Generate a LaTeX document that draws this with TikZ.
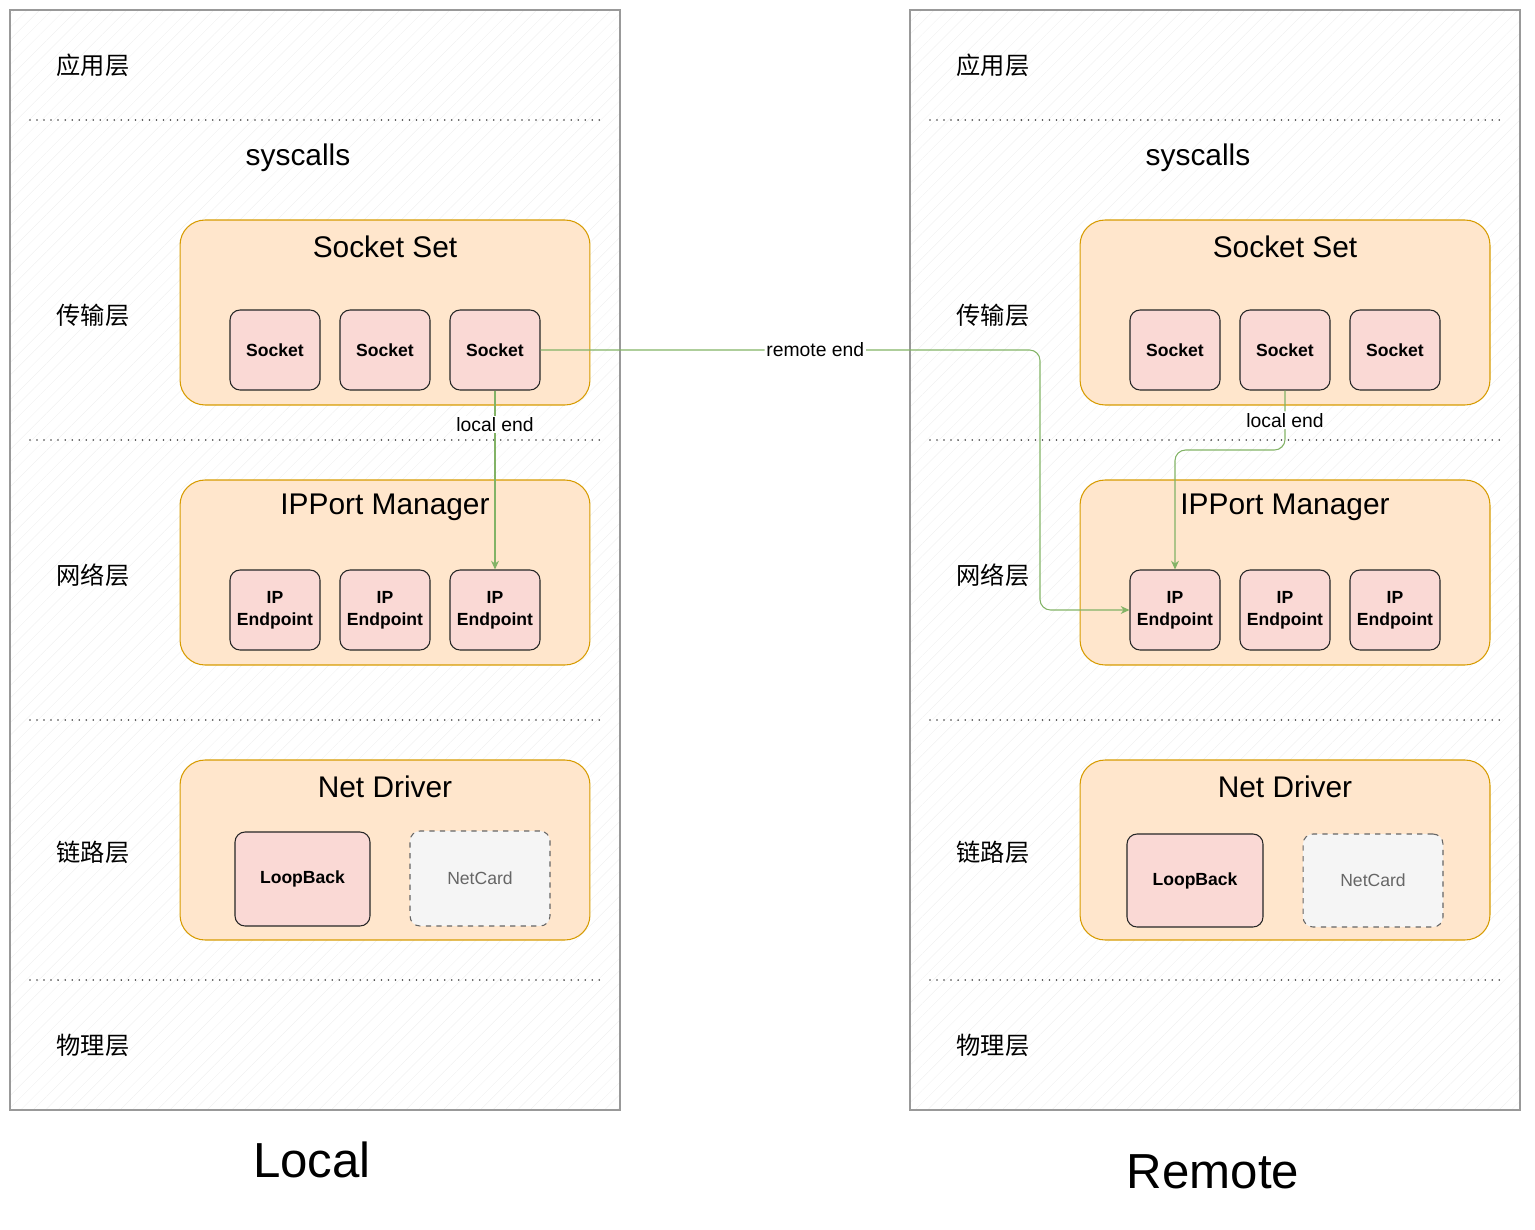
\documentclass[tikz,border=0pt]{standalone}
\usepackage{fontspec}
\setmainfont{Liberation Sans}
\newfontfamily\cjk{Noto Sans CJK SC}
\usetikzlibrary{arrows.meta,patterns.meta}
\definecolor{boxfill}{HTML}{FFE6CC}
\definecolor{boxline}{HTML}{D79B00}
\definecolor{itemfill}{HTML}{FAD9D5}
\definecolor{cardfill}{HTML}{F5F5F5}
\definecolor{cardline}{HTML}{666666}
\definecolor{linkcol}{HTML}{82B366}
\tikzset{
  panel/.style={draw=black!40, line width=0.7pt, pattern={Lines[angle=45,distance=5pt,line width=0.25pt]}, pattern color=black!6},
  sep/.style={draw=black!75, line width=1pt, line cap=round, dash pattern=on 0pt off 4pt},
  layer/.style={font=\cjk\fontsize{13.8}{16}\selectfont},
  sys/.style={font=\fontsize{17}{20}\selectfont},
  group/.style={draw=boxline, fill=boxfill, line width=0.6pt, rounded corners=0.5cm, minimum width=8.2cm, minimum height=3.7cm},
  title/.style={font=\fontsize{17}{20}\selectfont},
  item/.style={draw=black!85, fill=itemfill, line width=0.6pt, rounded corners=0.2cm, minimum width=1.8cm, minimum height=1.6cm, inner sep=0pt, align=center, font=\bfseries\fontsize{10}{12.5}\selectfont},
  card/.style={draw=cardline, dashed, fill=cardfill, text=cardline, line width=0.6pt, rounded corners=0.2cm, minimum width=2.8cm, minimum height=1.9cm, font=\fontsize{10}{12}\selectfont},
  link/.style={draw=linkcol, line width=0.6pt, -{Stealth[length=5pt,width=4.5pt]}},
  lbl/.style={fill=white, inner sep=1pt, font=\fontsize{11}{13}\selectfont},
  side/.style={font=\fontsize{28}{32}\selectfont}
}

\begin{document}
\begin{tikzpicture}[x=0.02cm,y=-0.02cm]
  %%%%% START %%%%%
  \def\xr{900}
  \useasboundingbox (0,0) rectangle (1535,1230);

  % local host
  \draw[panel] (10,10) rectangle (620,1110);
  \draw[sep] (30,120) -- (600,120);
  \draw[sep] (30,440) -- (600,440);
  \draw[sep] (30,720) -- (600,720);
  \draw[sep] (30,980) -- (600,980);

  \node[layer] (L-app) at (93,65) {应用层};
  \node[layer] (L-tra) at (93,315) {传输层};
  \node[layer] (L-net) at (93,575) {网络层};
  \node[layer] (L-lnk) at (93,852) {链路层};
  \node[layer] (L-phy) at (93,1045) {物理层};
  \node[sys] (L-sys) at (298,158) {syscalls};

  \node[group] (L-set) at (385,312.5) {};
  \node[title] (L-settitle) at (385,247) {Socket Set};
  \node[item] (L-s1) at (275,350) {Socket};
  \node[item] (L-s2) at (385,350) {Socket};
  \node[item] (L-s3) at (495,350) {Socket};

  \node[group] (L-ipm) at (385,572.5) {};
  \node[title] (L-ipmtitle) at (385,507) {IPPort Manager};
  \node[item] (L-e1) at (275,610) {IP\\Endpoint};
  \node[item] (L-e2) at (385,610) {IP\\Endpoint};
  \node[item] (L-e3) at (495,610) {IP\\Endpoint};

  \node[group, minimum height=3.6cm] (L-drv) at (385,850) {};
  \node[title] (L-drvtitle) at (385,787) {Net Driver};
  \node[item, minimum width=2.7cm, minimum height=1.88cm] (L-lo) at (302.5,879) {LoopBack};
  \node[card] (L-nic) at (480,878.5) {NetCard};

  \node[side] (L-name) at (312,1160) {Local};

  % remote host
  \draw[panel] (\xr+10,10) rectangle (\xr+620,1110);
  \draw[sep] (\xr+30,120) -- (\xr+600,120);
  \draw[sep] (\xr+30,440) -- (\xr+600,440);
  \draw[sep] (\xr+30,720) -- (\xr+600,720);
  \draw[sep] (\xr+30,980) -- (\xr+600,980);

  \node[layer] (R-app) at (\xr+93,65) {应用层};
  \node[layer] (R-tra) at (\xr+93,315) {传输层};
  \node[layer] (R-net) at (\xr+93,575) {网络层};
  \node[layer] (R-lnk) at (\xr+93,852) {链路层};
  \node[layer] (R-phy) at (\xr+93,1045) {物理层};
  \node[sys] (R-sys) at (\xr+298,158) {syscalls};

  \node[group] (R-set) at (\xr+385,312.5) {};
  \node[title] (R-settitle) at (\xr+385,247) {Socket Set};
  \node[item] (R-s1) at (\xr+275,350) {Socket};
  \node[item] (R-s2) at (\xr+385,350) {Socket};
  \node[item] (R-s3) at (\xr+495,350) {Socket};

  \node[group] (R-ipm) at (\xr+385,572.5) {};
  \node[title] (R-ipmtitle) at (\xr+385,507) {IPPort Manager};
  \node[item] (R-e1) at (\xr+275,610) {IP\\Endpoint};
  \node[item] (R-e2) at (\xr+385,610) {IP\\Endpoint};
  \node[item] (R-e3) at (\xr+495,610) {IP\\Endpoint};

  \node[group, minimum height=3.6cm] (R-drv) at (\xr+385,850) {};
  \node[title] (R-drvtitle) at (\xr+385,787) {Net Driver};
  \node[item, minimum width=2.72cm, minimum height=1.86cm] (R-lo) at (\xr+295,880.5) {LoopBack};
  \node[card, minimum height=1.86cm] (R-nic) at (\xr+473,880.5) {NetCard};

  \node[side] (R-name) at (1213,1172) {Remote};

  % links
  \coordinate (R-bend) at (1040,350);
  \coordinate (R-turn) at (\xr+385,450);
  \draw[link] (L-s3.south) -- node[lbl, pos=0.19] {local end} (L-e3.north);
  \draw[link, rounded corners=6pt] (L-s3.east) -- node[lbl, pos=0.55] {remote end} (R-bend) |- (R-e1.west);
  \draw[link, rounded corners=6pt] (R-s2.south) -- node[lbl] {local end} (R-turn) -| (R-e1.north);
  %%%%% END %%%%%
\end{tikzpicture}
\end{document}
